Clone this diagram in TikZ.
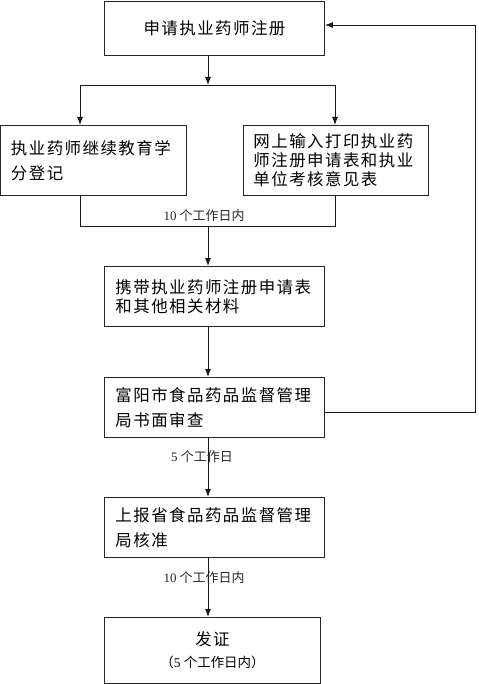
\documentclass[tikz,border=0pt]{standalone}
\usepackage{fontspec}
\setmainfont{Liberation Serif}
\newfontfamily\cjk[LetterSpace=9]{Noto Sans CJK SC}
\newfontfamily\cjkl{Noto Sans CJK SC}
\usetikzlibrary{arrows.meta}
\begin{document}
\begin{tikzpicture}[x=1bp,y=-1bp,
  box/.style={draw=black!85, line width=0.9bp, rectangle, inner sep=0pt, anchor=north west},
  arr/.style={-{Latex[length=8bp,width=6bp]}, line width=0.9bp, draw=black!90},
  ln/.style={line width=0.9bp, draw=black!90},
  lbl/.style={font=\fontsize{13}{15}\selectfont, inner sep=0pt, text=black!85}]
\useasboundingbox (0,0) rectangle (479,684);
\fill[white] (0,0) rectangle (479,684);
% boxes
\node[box, minimum width=220bp, minimum height=54bp, text width=200bp, align=center,
  font=\cjk\fontsize{16.5}{19}\selectfont] (reg) at (104,1) {申请执业药师注册};
\node[box, minimum width=185bp, minimum height=70bp, text width=165bp, align=left,
  font=\cjk\fontsize{16.5}{25}\selectfont] (edu) at (0.5,125) {执业药师继续教育学\\分登记};
\node[box, minimum width=185bp, minimum height=70bp, text width=165bp, align=left,
  font=\cjk\fontsize{16.5}{19}\selectfont] (net) at (243,125) {网上输入打印执业药\\师注册申请表和执业\\单位考核意见表};
\node[box, minimum width=220bp, minimum height=60bp, text width=198bp, align=left,
  font=\cjk\fontsize{16.5}{19}\selectfont] (carry) at (104,266) {携带执业药师注册申请表\\和其他相关材料};
\node[box, minimum width=220bp, minimum height=60bp, text width=198bp, align=left,
  font=\cjk\fontsize{16.5}{25}\selectfont] (review) at (104,377) {富阳市食品药品监督管理\\局书面审查};
\node[box, minimum width=220bp, minimum height=60bp, text width=198bp, align=left,
  font=\cjk\fontsize{16.5}{25}\selectfont] (report) at (104,497) {上报省食品药品监督管理\\局核准};
\node[box, minimum width=216bp, minimum height=66bp, text width=196bp, align=center] (cert) at (104,617)
  {{\cjk\fontsize{16.5}{19}\selectfont 发证}\\[8bp]{\fontsize{13.5}{15}\selectfont{\cjkl （}5 {\cjkl 个工作日内）}}};
% coordinates
\coordinate (s1) at (208,85);
\coordinate (b1L) at (80,85);
\coordinate (b1R) at (335,85);
\coordinate (j2) at (208,226);
\coordinate (j2L) at (80,226);
\coordinate (j2R) at (335,226);
\coordinate (fbB) at (475,412);
\coordinate (fbT) at (475,25);
% connectors
\draw[arr] (reg.south -| s1) -- (s1);
\draw[ln] (b1L) -- (b1R);
\draw[arr] (b1L) -- (b1L |- edu.north);
\draw[arr] (b1R) -- (b1R |- net.north);
\draw[ln] (edu.south -| j2L) -- (j2L) -- (j2R) -- (net.south -| j2R);
\draw[arr] (j2) -- (j2 |- carry.north);
\draw[arr] (carry.south -| j2) -- (review.north -| j2);
\draw[arr] (review.south -| j2) -- (report.north -| j2);
\draw[arr] (report.south -| j2) -- (cert.north -| j2);
\draw[arr] (review.east |- fbB) -- (fbB) -- (fbT) -- (reg.east |- fbT);
% labels
\node[lbl] (l1) at (204,216) {10 {\cjkl 个工作日内}};
\node[lbl] (l2) at (202,457) {5 {\cjkl 个工作日}};
\node[lbl] (l3) at (204,578) {10 {\cjkl 个工作日内}};
\end{tikzpicture}
\end{document}
